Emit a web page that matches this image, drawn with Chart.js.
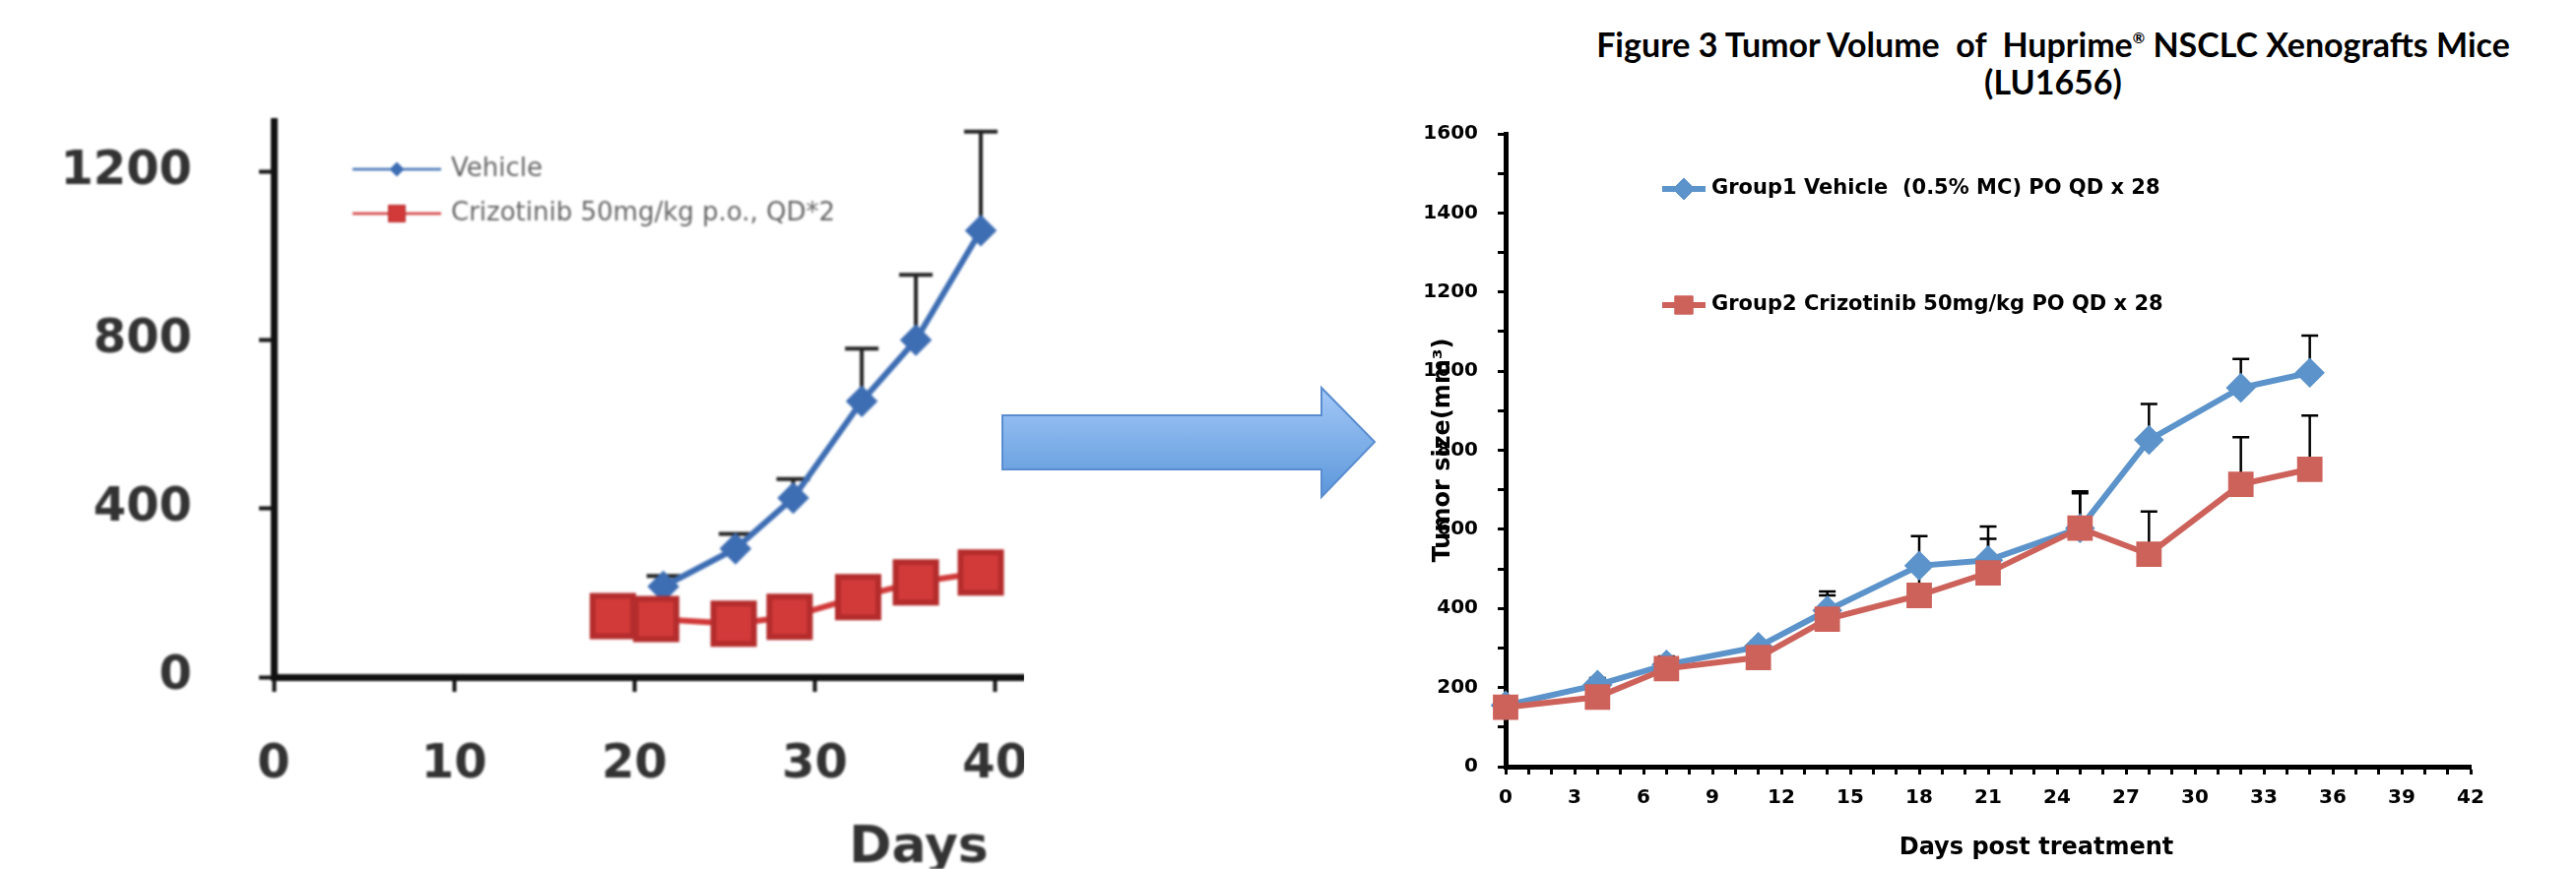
<!DOCTYPE html>
<html>
<head>
<meta charset="utf-8">
<script src="https://cdn.jsdelivr.net/npm/chart.js@4.4.1/dist/chart.umd.min.js"></script>
<style>
  html, body { margin: 0; padding: 0; background: #fff; width: 2616px; height: 883px; overflow: hidden; }
  #leftWrap { position: absolute; left: 0; top: 88px; width: 1040px; height: 795px; overflow: hidden; }
  #leftChart { filter: blur(1px); }
  #rightWrap { position: absolute; left: 1380px; top: 0; width: 1236px; height: 883px; }
  #arrow { position: absolute; left: 1000px; top: 380px; }
  #figTitle {
    position: absolute; left: 1535px; top: 26px; width: 1100px;
    text-align: center; font: bold 34px Lato; line-height: 38px; color: #000; white-space: pre;
  }
  #figTitle sup { font-size: 15px; vertical-align: 14px; line-height: 0; }
  #xTitle {
    position: absolute; left: 1818px; top: 845px; width: 500px;
    text-align: center; font: bold 24px "DejaVu Sans"; line-height: 30px; color: #000;
  }
</style>
</head>
<body>
<div id="leftWrap"><canvas id="leftChart" width="1100" height="795"></canvas></div>

<svg id="arrow" width="420" height="140">
  <defs>
    <linearGradient id="arrowFill" x1="0" y1="0" x2="0" y2="1">
      <stop offset="0" stop-color="#a3c8f7"/>
      <stop offset="1" stop-color="#5b97da"/>
    </linearGradient>
  </defs>
  <polygon points="18,42 342,42 342,14 396,69 342,125 342,97 18,97"
           fill="url(#arrowFill)" stroke="#5a8dd0" stroke-width="2"/>
</svg>

<div id="figTitle">Figure 3 Tumor Volume  of  Huprime<sup>®</sup> NSCLC Xenografts Mice
(LU1656)</div>
<div id="rightWrap"><canvas id="rightChart" width="1236" height="883"></canvas></div>
<div id="xTitle">Days post treatment</div>

<script>
// left panel: original study
const leftYTicks = [0, 400, 800, 1200]
const leftVehicleDays = [21.6, 25.6, 28.8, 32.6, 35.6, 39.2]
const leftVehicleVol = [215, 305, 425, 655, 800, 1060]
const leftVehicleErr = [25, 35, 45, 125, 155, 235]
const leftCrizDays = [18.8, 21.2, 25.5, 28.6, 32.4, 35.6, 39.2]
const leftCrizVol = [145, 138, 127, 143, 190, 225, 248]

// right panel: LU1656 model
const days = [0, 4, 7, 11, 14, 18, 21, 25, 28, 32, 35]
const group1Vol = [155, 207, 258, 303, 395, 508, 522, 603, 826, 958, 996]
const group1Err = [0, 17, 21, 15, 48, 75, 85, 93, 91, 73, 94]
const group2Vol = [150, 176, 248, 276, 373, 433, 490, 603, 537, 714, 752]
const group2Err = [0, 10, 28, 34, 60, 72, 86, 88, 108, 119, 136]

const toPoints = (xs, ys) => xs.map((x, i) => ({ x: x, y: ys[i] }))

// upper error bars, drawn under the lines
const errorBars = {
  id: 'errorBars',
  beforeDatasetsDraw(chart, args, opts) {
    const ctx = chart.ctx
    const yScale = chart.scales.y
    ctx.save()
    ctx.strokeStyle = opts.color
    ctx.lineWidth = opts.width
    chart.data.datasets.forEach((ds, i) => {
      if (!ds.errorBars) return
      const meta = chart.getDatasetMeta(i)
      meta.data.forEach((pt, j) => {
        const e = ds.errorBars[j]
        if (!e) return
        const yTop = yScale.getPixelForValue(ds.data[j].y + e)
        ctx.beginPath()
        ctx.moveTo(pt.x, pt.y)
        ctx.lineTo(pt.x, yTop)
        ctx.moveTo(pt.x - opts.cap / 2, yTop)
        ctx.lineTo(pt.x + opts.cap / 2, yTop)
        ctx.stroke()
      })
    })
    ctx.restore()
  }
}

// legend with line + marker, placed inside the plot area
const lineLegend = {
  id: 'lineLegend',
  afterDatasetsDraw(chart, args, opts) {
    const ctx = chart.ctx
    const area = chart.chartArea
    ctx.save()
    chart.data.datasets.forEach((ds, i) => {
      const y = area.top + opts.top + i * opts.rowGap
      const x0 = area.left + opts.left
      const x1 = x0 + opts.lineLength
      ctx.strokeStyle = ds.borderColor
      ctx.lineWidth = opts.lineWidth
      ctx.beginPath()
      ctx.moveTo(x0, y)
      ctx.lineTo(x1, y)
      ctx.stroke()
      ctx.fillStyle = ds.pointBackgroundColor
      ctx.strokeStyle = ds.pointBorderColor
      ctx.lineWidth = 1
      Chart.helpers.drawPoint(ctx, {
        pointStyle: ds.pointStyle, radius: ds.legendRadius, borderWidth: 1, rotation: 0
      }, (x0 + x1) / 2, y)
      ctx.fillStyle = opts.color
      ctx.font = opts.font
      ctx.textBaseline = 'middle'
      ctx.textAlign = 'left'
      ctx.fillText(ds.label, x1 + opts.gap, y)
    })
    ctx.restore()
  }
}

const leftBlue = '#3d6db3'
const leftRed = '#d23a3a'
const leftInk = '#333'

new Chart(document.getElementById('leftChart'), {
  type: 'line',
  data: {
    datasets: [
      {
        label: 'Vehicle',
        data: toPoints(leftVehicleDays, leftVehicleVol),
        errorBars: leftVehicleErr,
        borderColor: leftBlue,
        pointBackgroundColor: leftBlue,
        pointBorderColor: leftBlue,
        pointStyle: 'rectRot',
        pointRadius: 12,
        legendRadius: 7,
        borderWidth: 6,
        order: 2,
        clip: false
      },
      {
        label: 'Crizotinib 50mg/kg p.o., QD*2',
        data: toPoints(leftCrizDays, leftCrizVol),
        borderColor: leftRed,
        pointBackgroundColor: leftRed,
        pointBorderColor: '#b52c2c',
        pointStyle: 'rect',
        pointRadius: 29,
        legendRadius: 12,
        borderWidth: 6,
        order: 1,
        clip: false
      }
    ]
  },
  options: {
    responsive: false,
    animation: false,
    layout: { padding: { left: 0, right: 60, top: 29, bottom: 0 } },
    plugins: {
      legend: { display: false },
      tooltip: { enabled: false },
      errorBars: { color: '#222', width: 4, cap: 34 },
      lineLegend: {
        left: 80, top: 49, rowGap: 45, lineLength: 90, gap: 10, lineWidth: 2.5,
        color: '#666', font: '26px "DejaVu Sans"'
      }
    },
    scales: {
      x: {
        type: 'linear',
        min: 0,
        max: 41.6,
        afterFit: (s) => { s.height = 195 },
        ticks: {
          stepSize: 10, includeBounds: false, autoSkip: false, maxRotation: 0,
          padding: 46, color: leftInk,
          font: { family: 'DejaVu Sans', weight: 'bold', size: 48 },
          callback: (v) => String(v)
        },
        grid: { drawOnChartArea: false, tickLength: 15, tickWidth: 4, color: '#111' },
        border: { color: '#111', width: 7 },
        title: {
          display: true, text: 'Days  ', align: 'end', color: leftInk,
          padding: { top: 0, bottom: -11 },
          font: { family: 'DejaVu Sans', weight: 'bold', size: 52 }
        }
      },
      y: {
        min: 0,
        max: 1320,
        afterBuildTicks: (s) => { s.ticks = leftYTicks.map((v) => ({ value: v })) },
        afterFit: (s) => {
          s.width = 278
          s.paddingTop = 0
          s.paddingBottom = 0
        },
        ticks: {
          padding: 68, color: leftInk,
          font: { family: 'DejaVu Sans', weight: 'bold', size: 48 },
          callback: (v) => String(v)
        },
        grid: { drawOnChartArea: false, tickLength: 15, tickWidth: 4, color: '#111' },
        border: { color: '#111', width: 7 }
      }
    }
  },
  plugins: [errorBars, lineLegend]
})

const blue = '#5b93ca'
const red = '#cd625b'
const tickFont = { family: 'DejaVu Sans', weight: 'bold', size: 20 }

new Chart(document.getElementById('rightChart'), {
  type: 'line',
  data: {
    datasets: [
      {
        label: 'Group1 Vehicle  (0.5% MC) PO QD x 28',
        data: toPoints(days, group1Vol),
        errorBars: group1Err,
        borderColor: blue,
        pointBackgroundColor: blue,
        pointBorderColor: blue,
        pointStyle: 'rectRot',
        pointRadius: 11,
        legendRadius: 11,
        borderWidth: 6,
        order: 2,
        clip: false
      },
      {
        label: 'Group2 Crizotinib 50mg/kg PO QD x 28',
        data: toPoints(days, group2Vol),
        errorBars: group2Err,
        borderColor: red,
        pointBackgroundColor: red,
        pointBorderColor: red,
        pointStyle: 'rect',
        pointRadius: 14,
        legendRadius: 13,
        borderWidth: 6,
        order: 1,
        clip: false
      }
    ]
  },
  options: {
    responsive: false,
    animation: false,
    layout: { padding: { left: 60, right: 107, top: 136, bottom: 0 } },
    plugins: {
      legend: { display: false },
      tooltip: { enabled: false },
      errorBars: { color: '#000', width: 2.5, cap: 17 },
      lineLegend: {
        left: 159, top: 56, rowGap: 118, lineLength: 44, gap: 6, lineWidth: 6,
        color: '#000', font: 'bold 21px "DejaVu Sans"'
      }
    },
    scales: {
      x: {
        type: 'linear',
        min: 0,
        max: 42,
        afterFit: (s) => { s.height = 104 },
        ticks: {
          stepSize: 1, autoSkip: false, maxRotation: 0, padding: 12, color: '#000',
          font: tickFont,
          callback: (v) => (v % 3 === 0 ? v : '')
        },
        grid: { drawOnChartArea: false, tickLength: 8, tickWidth: 3, color: '#000' },
        border: { color: '#000', width: 5 }
      },
      y: {
        min: 0,
        max: 1600,
        afterFit: (s) => { s.width = 89 },
        ticks: {
          stepSize: 100, autoSkip: false, padding: 20, color: '#000',
          font: tickFont,
          callback: (v) => (v % 200 === 0 ? v : '')
        },
        grid: { drawOnChartArea: false, tickLength: 8, tickWidth: 3, color: '#000' },
        border: { color: '#000', width: 5 },
        title: {
          display: true, text: 'Tumor size(mm³)', color: '#000',
          padding: { top: 11, bottom: 0 },
          font: { family: 'DejaVu Sans', weight: 'bold', size: 24 }
        }
      }
    }
  },
  plugins: [errorBars, lineLegend]
})
</script>
</body>
</html>
